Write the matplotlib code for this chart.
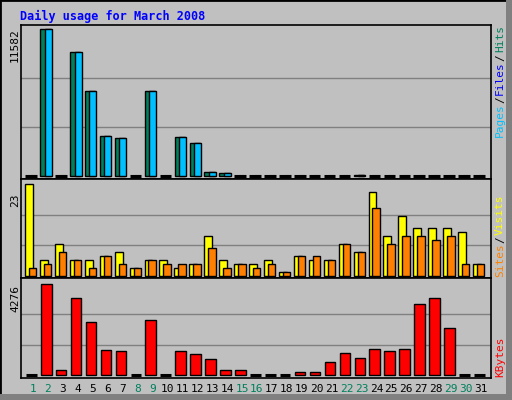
import matplotlib
matplotlib.use("Agg")
import matplotlib.pyplot as plt
from matplotlib.patches import Rectangle

days = list(range(1, 32))
hits = [0,11582,0,9770,6700,3150,3000,0,6700,0,3070,2600,315,236,0,0,0,0,0,0,0,0,100,0,0,0,0,0,0,0,0]
files = [0,11582,0,9770,6700,3150,3000,0,6700,0,3070,2600,315,236,0,0,0,0,0,0,0,0,100,0,0,0,0,0,0,0,0]
visits = [23,4,8,4,4,5,6,2,4,4,2,3,10,4,3,3,4,1,5,4,4,8,6,21,10,15,12,12,12,11,3]
sites = [2,3,6,4,2,5,3,2,4,3,3,3,7,2,3,2,3,1,5,5,4,8,6,17,8,10,10,9,10,3,3]
kbytes = [0,4276,218,3620,2500,1190,1140,0,2590,0,1140,1000,770,250,250,0,0,0,160,160,630,1050,815,1235,1140,1235,3340,3620,2220,0,0]
weekend = [1,2,8,9,15,16,22,23,29,30]

W, H = 512, 400
GRAY = "#c0c0c0"
fig = plt.figure(figsize=(W/100, H/100), dpi=100, facecolor=GRAY)
# outer frame
fig.patches.append(Rectangle((0, 0), 1, 1, transform=fig.transFigure, fill=False, ec="black", lw=2))
fig.patches.append(Rectangle((506/W, 0), 6/W, 1, transform=fig.transFigure, fc="#808080", ec="none"))
fig.patches.append(Rectangle((0, 0), 1, 6/H, transform=fig.transFigure, fc="#808080", ec="none"))

def px_axes(y0, y1):
    return fig.add_axes([21/W, 1-y1/H, (491-21)/W, (y1-y0)/H])

mono = "DejaVu Sans Mono"

def setup(ax, top, base_px, span_px, panel_px, label):
    ax.set_facecolor(GRAY)
    ax.set_xlim(1-12/14.93, 31+10/14.93)
    unit = top/span_px
    ax.set_ylim(-base_px*unit, (panel_px-base_px)*unit)
    for f in (1/3, 2/3):
        ax.axhline(top*f, color="#808080", lw=1, zorder=0)
    ax.set_xticks([]); ax.set_yticks([])
    for s in ax.spines.values():
        s.set_linewidth(1.2)
    return unit

def bars(ax, vals, off, width, color, unit):
    for d, v in zip(days, vals):
        if v <= 0:
            ax.plot([d+off, d+off+width], [0, 0], color="black", lw=2.2, solid_capstyle="butt")
        else:
            ax.bar(d+off, v, width=width, align="edge", color=color, edgecolor="black", lw=1)

ax1 = px_axes(25, 179)
u = setup(ax1, 11582, 3, 147, 154, "")
bars(ax1, hits, -0.52, 0.7, "#00805c", u)
bars(ax1, files, -0.22, 0.47, "#00c0ff", u)

ax2 = px_axes(179, 278)
u = setup(ax2, 23, 2, 92, 99, "")
bars(ax2, visits, -0.53, 0.53, "#ffff00", u)
bars(ax2, sites, -0.27, 0.5, "#ff8000", u)

ax3 = px_axes(278, 378)
u = setup(ax3, 4276, 3, 91.4, 100, "")
bars(ax3, kbytes, -0.47, 0.71, "#ff0000", u)

fig.text(20/W, 1-16/H, "Daily usage for March 2008", color="#0000ff", family=mono,
         fontweight="bold", fontsize=8.5, va="center", ha="left")
fig.text(15/W, 1-45/H, "11582", rotation=90, family=mono, fontsize=8, ha="center", va="center")
fig.text(15/W, 1-200/H, "23", rotation=90, family=mono, fontsize=8, ha="center", va="center")
fig.text(15/W, 1-298/H, "4276", rotation=90, family=mono, fontsize=8, ha="center", va="center")

def vlabel(parts, x, ybottom):
    y = ybottom
    for txt, col in parts:
        t = fig.text(x/W, 1-y/H, txt, rotation=90, color=col, family=mono, fontsize=8,
                     ha="center", va="bottom")
        y -= len(txt)*6.4 + 2

vlabel([("Pages", "#00c0ff"), ("/", "black"), ("Files", "#0000ff"), ("/", "black"), ("Hits", "#00805c")], 500, 137)
vlabel([("Sites", "#ff8000"), ("/", "black"), ("Visits", "#ffff00")], 500, 277)
vlabel([("KBytes", "#ff0000")], 500, 377)

for d in days:
    fig.text((33+(d-1)*14.93)/W, 1-389/H, str(d), family=mono, fontsize=8, ha="center", va="center",
             color="#00805c" if d in weekend else "black")

fig.savefig("out.png", dpi=100, facecolor=GRAY)
